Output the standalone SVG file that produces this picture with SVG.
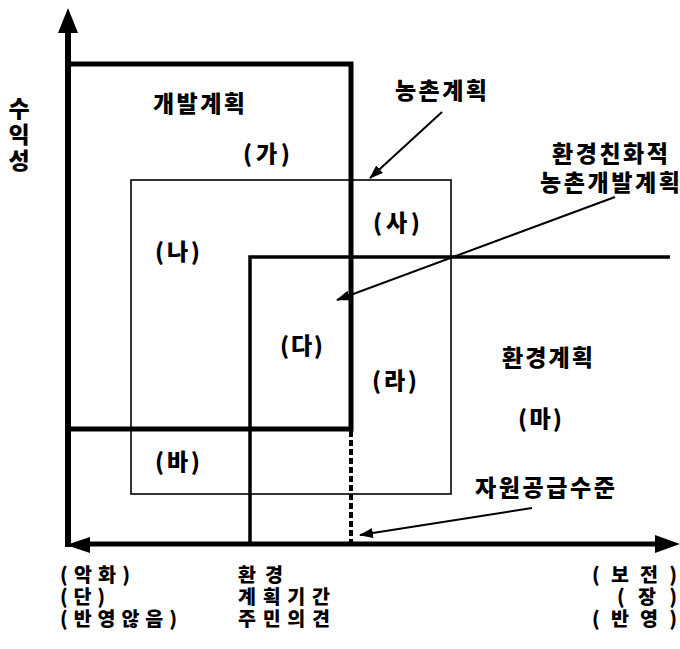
<svg xmlns="http://www.w3.org/2000/svg" width="680" height="649" viewBox="0 0 680 649">
<style>
text{font-family:"Noto Sans CJK KR","Noto Sans CJK SC",sans-serif;font-weight:900;font-size:23px;fill:#000}
text.s{font-size:19.5px}
.thick{fill:none;stroke:#000;stroke-width:5}
.mid{fill:none;stroke:#000;stroke-width:3.5}
.thin{fill:none;stroke:#000;stroke-width:1.6}
.ptr{fill:none;stroke:#000;stroke-width:2}
</style>
<defs>
<marker id="ah" markerWidth="14" markerHeight="10" refX="13" refY="5" orient="auto" markerUnits="userSpaceOnUse">
<path d="M0,0 L14,5 L0,10 Z" fill="#000"/>
</marker>
</defs>
<rect width="680" height="649" fill="#fff"/>
<g id="axes">
<line x1="68" y1="30" x2="68" y2="547" stroke="#000" stroke-width="6"/>
<path d="M68,8 L58,33 L78,33 Z" fill="#000"/>
<line x1="88" y1="544" x2="658" y2="544" stroke="#000" stroke-width="5"/>
<path d="M680,544 L655,535 L655,553 Z" fill="#000"/>
<path d="M66,545 L90,537 L90,553 Z" fill="#000"/>
<text text-anchor="middle"><tspan x="19" y="117">수</tspan><tspan x="19" y="143">익</tspan><tspan x="19" y="169">성</tspan></text>
</g>
<g id="development-plan">
<path class="thick" d="M68,64 L351,64 L351,429 L68,429"/>
<line x1="351" y1="431" x2="351" y2="543" stroke="#000" stroke-width="4" stroke-dasharray="6,3"/>
<text x="153" y="112" textLength="92" lengthAdjust="spacing">개발계획</text>
<text x="243" y="162" textLength="47" lengthAdjust="spacing">(가)</text>
</g>
<g id="rural-plan">
<rect class="thin" x="131" y="180" width="320" height="314"/>
<text x="155" y="260" textLength="45" lengthAdjust="spacing">(나)</text>
<text x="373" y="231" textLength="47" lengthAdjust="spacing">(사)</text>
<text x="155" y="470" textLength="45" lengthAdjust="spacing">(바)</text>
</g>
<g id="environment-plan">
<path class="mid" d="M250,543 L250,257 L670,257"/>
<text x="280" y="354" textLength="43" lengthAdjust="spacing">(다)</text>
<text x="372" y="389" textLength="45" lengthAdjust="spacing">(라)</text>
<text x="502" y="366" textLength="91" lengthAdjust="spacing">환경계획</text>
<text x="518" y="427" textLength="44" lengthAdjust="spacing">(마)</text>
</g>
<g id="callouts">
<text x="395" y="99" textLength="92" lengthAdjust="spacing">농촌계획</text>
<text><tspan x="552" y="162" textLength="116" lengthAdjust="spacing">환경친화적</tspan><tspan x="540" y="191" textLength="140" lengthAdjust="spacing">농촌개발계획</tspan></text>
<text x="475" y="496" textLength="140" lengthAdjust="spacing">자원공급수준</text>
</g>
<g id="connectors">
<line class="ptr" x1="442" y1="112" x2="370" y2="178" marker-end="url(#ah)"/>
<line class="ptr" x1="615" y1="197" x2="337" y2="300" marker-end="url(#ah)"/>
<line class="ptr" x1="532" y1="508" x2="360" y2="535" marker-end="url(#ah)"/>
</g>
<g id="axis-labels">
<text class="s"><tspan x="60" y="582" textLength="70" lengthAdjust="spacing">(악화)</tspan><tspan x="60" y="604" textLength="45" lengthAdjust="spacing">(단)</tspan><tspan x="60" y="626" textLength="117" lengthAdjust="spacing">(반영않음)</tspan></text>
<text class="s"><tspan x="238" y="582" textLength="45" lengthAdjust="spacing">환경</tspan><tspan x="238" y="604" textLength="92" lengthAdjust="spacing">계획기간</tspan><tspan x="238" y="626" textLength="92" lengthAdjust="spacing">주민의견</tspan></text>
<text class="s"><tspan x="592" y="582" textLength="85" lengthAdjust="spacing">(보전)</tspan><tspan x="617" y="604" textLength="60" lengthAdjust="spacing">(장)</tspan><tspan x="592" y="626" textLength="85" lengthAdjust="spacing">(반영)</tspan></text>
</g>
</svg>
